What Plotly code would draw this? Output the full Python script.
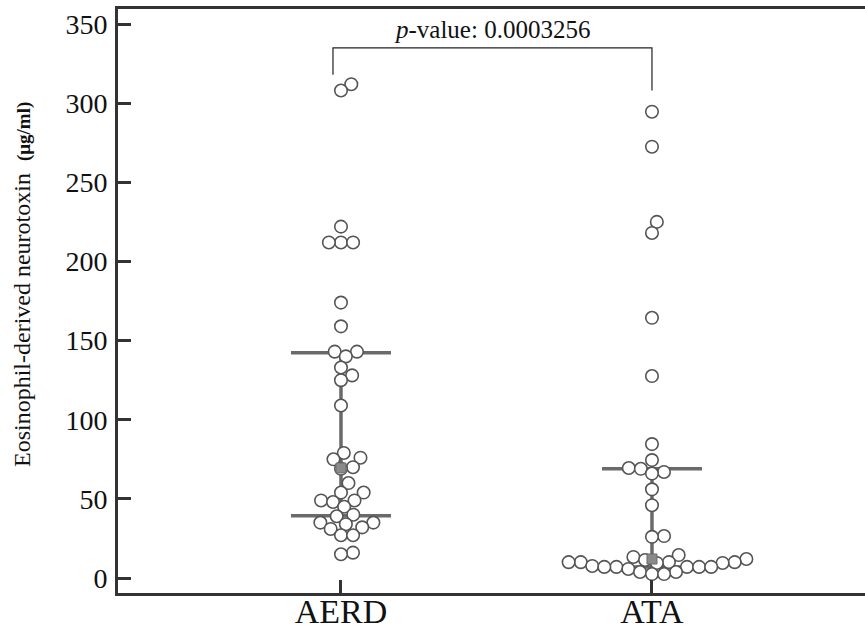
import math
import numpy as np
import plotly.graph_objects as go

# ---------------- data ----------------
categories = ["AERD", "ATA"]
aerd_values = [312, 308, 222, 212, 212, 212, 174, 159, 143, 143, 140, 133, 128, 125, 109,
               79, 76, 75, 70, 69, 60, 54, 54, 49, 49, 48, 45, 40, 39, 35, 35, 34, 32, 31,
               27, 27, 16, 15]
ata_values = [294.6, 272.5, 225, 218, 164.4, 127.6, 84.6, 74.5, 69.5, 69, 67, 66, 56, 46,
              26.5, 26, 14.5, 13.3, 12, 11.4, 10, 10, 10, 10, 9.5, 9.5, 7.6, 7, 7, 7, 7, 7,
              5.7, 3.8, 3.8, 2.5, 2.5]
y_ticks = [0, 50, 100, 150, 200, 250, 300, 350]
p_value = "0.0003256"
bracket_top = 335
bracket_left_end = 318
bracket_right_end = 308

# ---------------- layout geometry ----------------
W, H = 865, 632
ML, MR, MT, MB = 118, 0, 9, 39
x_range = [0.283, 2.685]
y_range = [-9.48, 359.5]
px_per_x = (W - ML - MR) / (x_range[1] - x_range[0])
px_per_y = (H - MT - MB) / (y_range[1] - y_range[0])
DIAM = 12.1  # marker spacing in px


def swarm(vals):
    vals = np.asarray(vals, dtype=float)
    order = np.argsort(vals, kind="stable")
    placed = []
    xs = np.zeros(len(vals))
    for i in order:
        y = vals[i] * px_per_y
        cands = [0.0]
        for (px, py) in placed:
            dy = y - py
            if abs(dy) < DIAM:
                dx = math.sqrt(DIAM * DIAM - dy * dy)
                cands += [px + dx, px - dx]
        cands.sort(key=abs)
        chosen = cands[-1]
        for c in cands:
            if all((c - px) ** 2 + (y - py) ** 2 >= DIAM * DIAM - 1e-6 for px, py in placed):
                chosen = c
                break
        xs[i] = chosen
        placed.append((chosen, y))
    return xs / px_per_x


FONT = "Liberation Serif, Times New Roman, serif"
fig = go.Figure()

bar_color = "#6a6a6a"
half = 50 / px_per_x
for k, vals in enumerate([aerd_values, ata_values]):
    xc = k + 1
    q1, med, q3 = np.percentile(vals, [25, 50, 75])
    fig.add_trace(go.Scatter(
        x=[xc - half, xc + half, None, xc - half, xc + half, None, xc, xc],
        y=[q3, q3, None, q1, q1, None, q1, q3],
        mode="lines", line=dict(color=bar_color, width=3.5),
        hoverinfo="skip", showlegend=False))

for k, vals in enumerate([aerd_values, ata_values]):
    xc = k + 1
    offs = swarm(vals)
    fig.add_trace(go.Scatter(
        x=xc + offs, y=vals, mode="markers",
        marker=dict(symbol="circle", size=12.5, color="white",
                    line=dict(color="#555555", width=1.6)),
        showlegend=False, name=categories[k]))

for k, vals in enumerate([aerd_values, ata_values]):
    med = float(np.median(vals))
    fig.add_trace(go.Scatter(
        x=[k + 1], y=[med], mode="markers",
        marker=dict(symbol="square", size=10, color="#8a8a8a",
                    line=dict(color="#6a6a6a", width=1)),
        showlegend=False, hoverinfo="skip"))

# significance bracket
x_left = 1 - 8 / px_per_x
fig.add_trace(go.Scatter(
    x=[x_left, x_left, 2, 2],
    y=[bracket_left_end, bracket_top, bracket_top, bracket_right_end],
    mode="lines", line=dict(color="#222222", width=1.2),
    hoverinfo="skip", showlegend=False))

fig.add_annotation(
    x=(x_left + 2) / 2, y=bracket_top, yshift=3, xref="x", yref="y",
    text="<i>p</i>-value: " + p_value, showarrow=False, yanchor="bottom",
    font=dict(family=FONT, size=25, color="#111111"))

# y-axis title as rotated annotation
plot_h = H - MT - MB
fig.add_annotation(
    xref="paper", yref="paper",
    x=(22 - ML) / (W - ML - MR), y=1 - (285 - MT) / plot_h,
    text="Eosinophil-derived neurotoxin  <b><span style='font-size:19px'>(μg/ml)</span></b>",
    textangle=-90, showarrow=False, xanchor="center", yanchor="middle",
    font=dict(family=FONT, size=24, color="#111111"))

fig.update_layout(
    width=W, height=H,
    margin=dict(l=ML, r=MR, t=MT, b=MB, autoexpand=False),
    paper_bgcolor="white", plot_bgcolor="white",
    font=dict(family=FONT, color="#111111"),
)
fig.update_xaxes(
    range=x_range, tickvals=[1, 2], ticktext=categories, automargin=False,
    ticks="inside", ticklen=13, tickwidth=3, tickcolor="#333333",
    showline=True, linewidth=3, linecolor="#333333", mirror=True,
    showgrid=False, zeroline=False, ticklabelstandoff=-14,
    tickfont=dict(family=FONT, size=34, color="#111111"))
fig.update_yaxes(
    range=y_range, tickvals=y_ticks, automargin=False,
    ticks="inside", ticklen=13, tickwidth=3, tickcolor="#333333",
    showline=True, linewidth=3, linecolor="#333333",
    showgrid=False, zeroline=False,
    ticklabelstandoff=2,
    tickfont=dict(family=FONT, size=28, color="#111111"))

fig.write_html(
    "out.html",
    config={"displayModeBar": False},
    post_script="document.body.style.margin='0';document.body.style.overflow='hidden';")
